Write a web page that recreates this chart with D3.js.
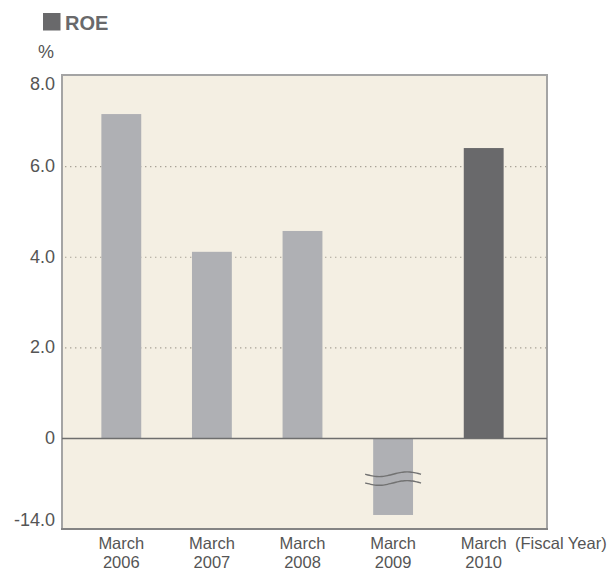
<!DOCTYPE html>
<html>
<head>
<meta charset="utf-8">
<script src="https://cdn.jsdelivr.net/npm/d3@7"></script>
<style>
  html, body { margin: 0; padding: 0; background: #ffffff; }
  svg { display: block; }
  text { font-family: "Liberation Sans", Arial, Helvetica, sans-serif; }
</style>
</head>
<body>
<svg id="chart" width="610" height="571"></svg>
<script>
// ROE by fiscal year (%)
const categories = ["2006", "2007", "2008", "2009", "2010"];
const monthLabel = "March";
const roeValues = [7.16, 4.12, 4.58, -13.3, 6.41];
const yTickValues = [-14, 0, 2, 4, 6, 8];
const gridValues = [2, 4, 6];
const highlightYear = "2010";
const breakValue = -7;

const svg = d3.select("#chart");

const frame = { left: 62, right: 547, top: 75, bottom: 529 };

// piecewise scale: compressed range below zero (axis break)
const y = d3.scaleLinear()
  .domain([-14, 0, 8])
  .range([519, 438.5, 76]);

const x = d3.scaleBand()
  .domain(categories)
  .range([76, 529])
  .paddingInner(0.56)
  .paddingOuter(0.28);

// plot background
svg.append("rect")
  .attr("x", frame.left).attr("y", frame.top)
  .attr("width", frame.right - frame.left)
  .attr("height", frame.bottom - frame.top)
  .attr("fill", "#f4efe3")
  .attr("stroke", "#a4a4a4")
  .attr("stroke-width", 2);

// bottom edge of frame, darker
svg.append("line")
  .attr("x1", frame.left - 1).attr("x2", frame.right + 1)
  .attr("y1", frame.bottom).attr("y2", frame.bottom)
  .attr("stroke", "#7a7a7a").attr("stroke-width", 1.6);

// dotted grid lines
svg.append("g")
  .selectAll("line")
  .data(gridValues)
  .join("line")
  .attr("x1", frame.left + 3).attr("x2", frame.right - 1)
  .attr("y1", d => y(d)).attr("y2", d => y(d))
  .attr("stroke", "#a8a296")
  .attr("stroke-width", 1.2)
  .attr("stroke-dasharray", "1.4,3.6");

// bars
svg.append("g")
  .selectAll("rect")
  .data(categories.map((c, i) => ({ cat: c, value: roeValues[i] })))
  .join("rect")
  .attr("x", d => x(d.cat))
  .attr("width", x.bandwidth())
  .attr("y", d => y(Math.max(0, d.value)))
  .attr("height", d => Math.abs(y(d.value) - y(0)))
  .attr("fill", d => d.cat === highlightYear ? "#69696b" : "#afb0b4");

// zero line
svg.append("line")
  .attr("x1", frame.left).attr("x2", frame.right)
  .attr("y1", y(0)).attr("y2", y(0))
  .attr("stroke", "#6e6e6e").attr("stroke-width", 1.3);

// break marks across the negative bar
const negCat = categories[roeValues.findIndex(v => v < 0)];
const bx0 = x(negCat) - 8, bx1 = x(negCat) + x.bandwidth() + 8;
const wave = (yc) => {
  const pts = d3.range(0, 1.0001, 0.05).map(t => [bx0 + t * (bx1 - bx0), yc + 2.4 * Math.sin(2 * Math.PI * t)]);
  return d3.line().curve(d3.curveBasis)(pts);
};
svg.append("g")
  .selectAll("path")
  .data([y(breakValue) - 4.5, y(breakValue) + 4.2])
  .join("path")
  .attr("d", d => wave(d))
  .attr("fill", "none")
  .attr("stroke", "#727272")
  .attr("stroke-width", 1.4);

// y axis labels
const yAxis = d3.axisLeft(y)
  .tickValues(yTickValues)
  .tickSize(0)
  .tickPadding(7)
  .tickFormat(d => d === 0 ? "0" : d.toFixed(1));
const yg = svg.append("g")
  .attr("transform", `translate(${frame.left},0)`)
  .call(yAxis);
yg.select(".domain").remove();
yg.selectAll("text")
  .attr("font-family", "'Liberation Sans', Arial, sans-serif")
  .attr("font-size", 18)
  .attr("fill", "#555555")
  .attr("dy", d => d === 8 ? "0.77em" : (d === -14 ? "0.38em" : "0.28em"));

// x axis labels (two lines)
const xAxis = d3.axisBottom(x).tickSize(0).tickFormat(() => "");
const xg = svg.append("g")
  .attr("transform", `translate(0,${frame.bottom})`)
  .call(xAxis);
xg.select(".domain").remove();
xg.selectAll(".tick text").remove();
xg.selectAll(".tick").each(function (d) {
  const t = d3.select(this).append("text")
    .attr("text-anchor", "middle")
    .attr("font-family", "'Liberation Sans', Arial, sans-serif")
    .attr("font-size", 16.5)
    .attr("fill", "#555555");
  t.append("tspan").attr("x", 0).attr("y", 20).text(monthLabel);
  t.append("tspan").attr("x", 0).attr("y", 38.5).text(d);
});

svg.append("text")
  .attr("x", 515).attr("y", frame.bottom + 20)
  .attr("font-size", 16.5)
  .attr("fill", "#555555")
  .text("(Fiscal Year)");

// unit label
svg.append("text")
  .attr("x", 46).attr("y", 58)
  .attr("text-anchor", "middle")
  .attr("font-size", 18)
  .attr("fill", "#555555")
  .text("%");

// legend / title
svg.append("rect")
  .attr("x", 43).attr("y", 13)
  .attr("width", 17.5).attr("height", 17.5)
  .attr("fill", "#69696b");
svg.append("text")
  .attr("x", 65).attr("y", 30)
  .attr("font-size", 20)
  .attr("font-weight", "bold")
  .attr("fill", "#69696b")
  .text("ROE");
</script>
</body>
</html>
